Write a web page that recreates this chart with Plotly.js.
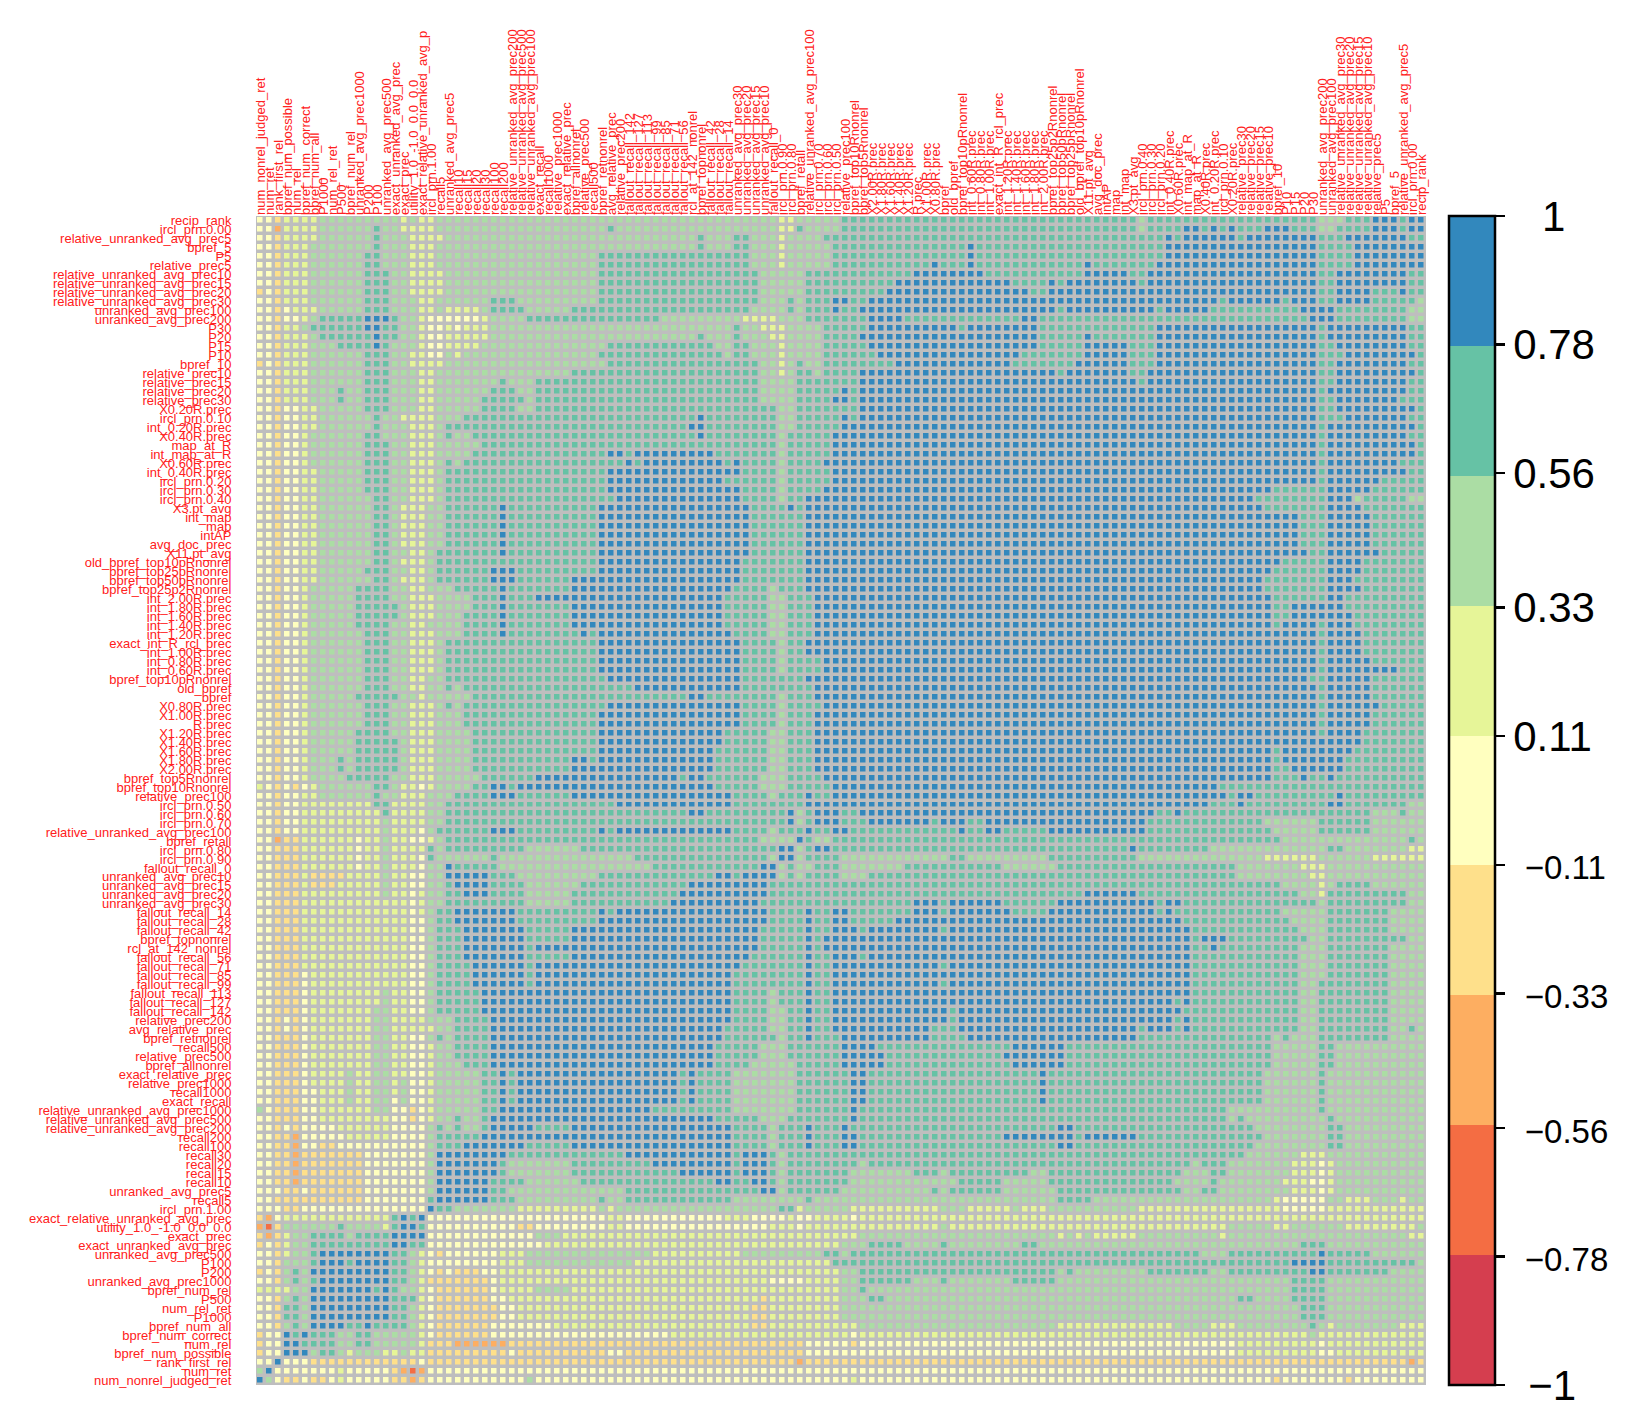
<!DOCTYPE html>
<html>
<head>
<meta charset="utf-8">
<script src="https://cdn.plot.ly/plotly-3.0.1.min.js"></script>
<style>html,body{margin:0;padding:0;background:#fff}</style>
</head>
<body>
<div id="chart" style="width:1635px;height:1421px"></div>
<script>
const rowLabels = ["recip_rank","ircl_prn.0.00","relative_unranked_avg_prec5","bpref_5","P5","relative_prec5","relative_unranked_avg_prec10","relative_unranked_avg_prec15","relative_unranked_avg_prec20","relative_unranked_avg_prec30","unranked_avg_prec100","unranked_avg_prec200","P30","P20","P15","P10","bpref_10","relative_prec10","relative_prec15","relative_prec20","relative_prec30","X0.20R.prec","ircl_prn.0.10","int_0.20R.prec","X0.40R.prec","map_at_R","int_map_at_R","X0.60R.prec","int_0.40R.prec","ircl_prn.0.20","ircl_prn.0.30","ircl_prn.0.40","X3.pt_avg","int_map","map","intAP","avg_doc_prec","X11.pt_avg","old_bpref_top10pRnonrel","bpref_top25pRnonrel","bpref_top50pRnonrel","bpref_top25p2Rnonrel","int_2.00R.prec","int_1.80R.prec","int_1.60R.prec","int_1.40R.prec","int_1.20R.prec","exact_int_R_rcl_prec","int_1.00R.prec","int_0.80R.prec","int_0.60R.prec","bpref_top10pRnonrel","old_bpref","bpref","X0.80R.prec","X1.00R.prec","R.prec","X1.20R.prec","X1.40R.prec","X1.60R.prec","X1.80R.prec","X2.00R.prec","bpref_top5Rnonrel","bpref_top10Rnonrel","relative_prec100","ircl_prn.0.50","ircl_prn.0.60","ircl_prn.0.70","relative_unranked_avg_prec100","bpref_retall","ircl_prn.0.80","ircl_prn.0.90","fallout_recall_0","unranked_avg_prec10","unranked_avg_prec15","unranked_avg_prec20","unranked_avg_prec30","fallout_recall_14","fallout_recall_28","fallout_recall_42","bpref_topnonrel","rcl_at_142_nonrel","fallout_recall_56","fallout_recall_71","fallout_recall_85","fallout_recall_99","fallout_recall_113","fallout_recall_127","fallout_recall_142","relative_prec200","avg_relative_prec","bpref_retnonrel","recall500","relative_prec500","bpref_allnonrel","exact_relative_prec","relative_prec1000","recall1000","exact_recall","relative_unranked_avg_prec1000","relative_unranked_avg_prec500","relative_unranked_avg_prec200","recall200","recall100","recall30","recall20","recall15","recall10","unranked_avg_prec5","recall5","ircl_prn.1.00","exact_relative_unranked_avg_prec","utility_1.0_-1.0_0.0_0.0","exact_prec","exact_unranked_avg_prec","unranked_avg_prec500","P100","P200","unranked_avg_prec1000","bpref_num_rel","P500","num_rel_ret","P1000","bpref_num_all","bpref_num_correct","num_rel","bpref_num_possible","rank_first_rel","num_ret","num_nonrel_judged_ret"];

// Column titles that run off the top edge of the picture in the reference.
const clippedColumnTitles = {"exact_relative_unranked_avg_prec":"exact_relative_unranked_avg_p","relative_unranked_avg_prec1000":"relative_unranked_avg_prec100"};

// Value standing for each colour class 1..9 of the reference legend.
const classValues = [null,-0.89,-0.67,-0.44,-0.22,0,0.22,0.44,0.67,0.89];
const binColors = ["#D53E4F","#F46D43","#FDAE61","#FEE08B","#FFFFBF","#E6F598","#ABDDA4","#66C2A5","#3288BD"];
const legendTicks = [-1,-0.78,-0.56,-0.33,-0.11,0.11,0.33,0.56,0.78,1];
const narrow = s => '\u00A0<span style="font-size:33px">\u2212' + s + '</span>';
const legendLabels = ['\u00A0<span style="font-size:12px">\u00A0</span>\u22121',narrow("0.78"),narrow("0.56"),narrow("0.33"),narrow("0.11"),"0.11","0.33","0.56","0.78",'\u00A0\u00A0<span style="font-size:20px">\u00A0</span>1'];

// Class readings, run-length coded as class x count.
// Rows 1-52, columns 79-130
const rows1to52 = [
"8x20 7 8x19 7x3 8x3 9x3 8 9x2",
"8x20 7 8x4 9x2 8 9 8 9 8x3 9x3 8x3 7x2 8x4 9x3 8 9x2",
"8x23 9 8 9x6 8 9x8 8x3 9x7 8x2",
"8 9 8x21 9x17 8x4 9x8",
"8 9 8x21 9x17 8x4 9x8",
"8 9 8x12 9 8x7 9x18 8x4 9x8",
"9x3 8x11 9x5 8x2 9x19 8x2 9x8 8x2",
"9x6 8x4 9 8 9x8 8 9x19 8x2 9x8 8x2",
"9x8 8x2 9x30 8x2 9x4 8x3 9 8x2",
"9x29 8 9x6 8 9x3 8x2 9x4 8x5 7",
"9x11 8 9x10 8 9x5 8x10 9x4 8x8 7x2",
"8x7 9x2 8x30 9x3 8x8 7x2",
"8 9x8 8x13 9x18 8 9x9 8x2",
"9x9 8x5 9 8x7 9x18 8 9x9 8x2",
"9x9 8x5 9x5 8x3 9x18 8x2 9x8 8x2",
"9x7 8x7 9x5 8x3 9x18 8x3 9x8 8",
"9x6 8x7 9x6 8x3 9x18 8x2 9x8 8x2",
"9x11 8 9x7 8x2 9x19 8x2 9x9 8",
"9x20 8 9x19 8x2 9x8 8x2",
"9x40 8 9x9 8x2",
"9x40 8x2 9x7 8x3",
"9x40 8x2 9x9 8",
"9x40 8x3 9x7 8x2",
"9x40 8 9x10 8",
"9x40 8 9x9 8x2",
"9x40 8 9x10 8",
"9x40 8 9x10 8",
"9x40 8 9x8 8x3",
"9x40 8 9x9 8x2",
"9x40 8 9x6 8x5",
"9x35 8x6 9x5 8x6",
"9x33 8x8 9x3 7 8x5 7x2",
"9x34 8x7 9x4 8x7",
"9x38 8x3 9x5 8x6",
"9x38 8x3 9x5 8x6",
"9x38 8x3 9x5 8x6",
"9x38 8x3 9x5 8x6",
"9x39 8x2 9x6 8x5",
"9x36 8x5 9x4 8x7",
"9x35 8x6 9x4 8x7",
"9x34 8x7 9x3 8x8",
"9x34 8x7 9x4 8x7",
"9x35 8x6 9x2 8x9",
"9x35 8x2 9x6 8x9",
"9x35 8x2 9x7 8x8",
"9x35 8 9x4 8 9x3 8x8",
"9x40 8 9x4 8x7",
"9x40 8 9x4 8x7",
"9x40 8 9x4 8x7",
"9x40 8 9x5 8x6",
"9x40 8 9x8 8x3",
"9x39 8x2 9x5 8x6"
];
// Rows 53-104, columns 27-78
const rows53to104left = [
"8x16 9x12 8x8 9x16",
"8x22 9x2 8x8 7 8x3 9x16",
"8x13 9x15 8x4 7 8x4 9x15",
"8x12 9x16 8x4 7 8x3 9x16",
"8x12 9x16 8x4 7 8x3 9x16",
"8x12 9x14 8x5 7x2 8x3 9x16",
"8x12 9x14 8x5 7x2 8x3 9x16",
"8x12 9x13 8x6 7x2 8x3 9x16",
"8x9 9x2 8 9x13 8x6 7x2 8x3 9x16",
"8x9 9x16 8x6 7x2 8x3 9x16",
"8x5 9x16 8 9x2 8x6 7x3 8x4 9x15",
"9x2 8 9x22 8x5 7x3 8x5 9x14",
"9x3 8x6 9x18 8x4 7 8x3 9 8x2 9x14",
"8x14 9x13 8x8 9x17",
"8x22 9x2 8x9 9 7 8 9x3 8x2 9x11",
"8x33 9 7 8 9x3 8x3 9x7 8 9x2",
"9x3 8x9 9 8 9x13 8x4 7 8x3 9 8x2 9x2 8x12",
"8x30 7x4 9 8 7x2 8x14",
"8x4 7x6 8x22 9x2 7 8 9x2 8x14",
"8 7x15 8x15 7 9x2 7 8x4 7x12 8",
"8 7x17 8x12 9x2 7 8 7x2 8x3 7x7 8x6",
"8x3 7x9 8x13 9x2 8 9x4 7 8 7 8x4 7x3 8x10",
"8x4 7x6 8x12 9x9 8x21",
"8x4 7x5 8x12 9x10 8x21",
"8x4 7x5 8x11 9x10 8x17 9x3 8 9",
"9x3 8x9 9 8 9x17 8x4 9 8x2 9x2 8x7 9x3 8 9",
"9x3 8x9 9x19 8x4 9 8x2 9x2 8x5 9x7",
"9x4 8x5 9x21 8x5 9 8x2 9x3 8 9x8 8 9",
"9x4 8x5 9x21 8x5 9 8 9x15",
"9x4 8 9x25 8x5 9 8 9x15",
"9x4 8x5 9x20 8x6 9 8x2 9x3 8 9x10",
"9x4 8 9x23 8x7 9 8x2 9x12 8 9",
"9x4 8 9x22 8x8 9 8x2 9x14",
"9x4 8 9x22 8x8 9 8x2 9x12 8 9",
"9x27 8x4 7 8x3 9 8x2 9x14",
"9x27 8x4 7 8x3 9 8x2 9x14",
"9x27 8x4 7x2 8x2 9 8x2 9x13 8",
"9x27 8x4 7x2 8x2 9 8x2 9x13 8",
"9x26 8x5 7x2 8x2 9 8x2 9x11 8x3",
"9x26 8x6 7 8x2 9 8x3 9x10 8x3",
"9x25 8x5 7x3 8x6 9x4 8x9",
"9x25 8x5 7x3 8x6 9x5 8x8",
"9x25 8x4 7x5 8x5 9x5 8x8",
"8 9 8 9x18 8 9 8x4 7x7 8x6 9x2 8x10",
"8 9 8 9x18 8 9 8x4 7x7 8x6 9x2 8x10",
"8 9 8 9x18 8 9 8x4 7x7 8x6 9x2 8x10",
"8 9 8 9x18 8 9 8x4 7x7 8x6 9x2 8x10",
"8 9x17 8x9 7x7 8x6 9 8x11",
"9x25 8x5 7x3 8x7 9 8x11",
"9x5 8x4 9x18 8x4 7 8x3 9 8x3 9 8x12",
"9x27 8x4 7 8x3 9 8x3 9x2 8x11",
"9x4 8x5 9x18 8x4 7 8x3 9 8x3 9x2 8x11"
];
// Rows 53-104, columns 79-130
const rows53to104right = [
"9x40 8 9x5 8x6",
"9x40 8 9x5 8x6",
"9x40 8 9x6 8x5",
"9x40 8 9x5 8x6",
"9x40 8 9x5 8x6",
"9x40 8 9x4 8x7",
"9x45 8x7",
"9x35 8 9x8 8x8",
"9x35 8 9x7 8x9",
"9x35 8x2 9x6 8x9",
"9x35 8x3 9 8x2 9 8x10",
"9x29 8x23",
"9x30 8 9x2 8x9 9 8x9",
"9x28 8x3 9 8x9 9x2 8x7 7x2",
"9x22 8x2 9 8x21 7x3 8 7x2",
"9 8x2 9x18 8x13 7x6 8x6 7x6",
"9 8x2 9x2 8x5 9x11 8x14 7x5 8x6 7x6",
"8x36 7x14 8 7",
"8x19 9 8x8 7x13 8x2 7x7 6x2",
"8 7x9 8x10 7x14 6x6 7x6 6x6",
"8x5 7x6 8x20 7x7 6x3 7x11",
"8x31 7x8 6x2 7x11",
"8x36 7x4 6 7 8x4 7x6",
"8x14 9x6 8x18 7x2 6 8x9 7x2",
"9x5 8x6 9x11 8 9x2 8x15 7 8x9 7x2",
"9x6 8x4 9x12 8 9 8x12 7x5 8x7 7x4",
"9x25 8x12 7x4 8x7 7x4",
"9x26 8x12 7x3 8x7 7x4",
"9x26 8 9x3 8x9 7x2 8x9 7x2",
"9x26 8x2 9 8x9 7x3 8x7 7x4",
"9x26 8x12 7x3 8x7 7x4",
"9x26 8x12 7x3 8x7 7x4",
"9x26 8x12 7x3 8x7 7x4",
"9x26 8x12 7x2 8x8 7x4",
"9x26 8x12 7x2 8x8 7x4",
"9x24 8 9 8x12 7x2 8x8 7x4",
"9x25 8x13 7x2 8x8 7x4",
"9x24 8 9 8x12 7x2 8x8 7x4",
"9x20 8 9x3 8 9 8x12 7x2 8x8 7x2 8 7",
"8 9x19 8x15 7 8 7x3 8x8 7x4",
"8x6 9x6 8x23 7x5 8x2 7x10",
"8x5 9x7 8x23 7x5 8x2 7x10",
"8x6 9x6 8x23 7x5 8x2 7x10",
"8x9 9 8x24 7x6 8 7x11",
"8x9 9 8x24 7x6 8 7x11",
"8x9 9 8x24 7x6 8 7x11",
"8x9 9 8x24 7x6 8 7x11",
"8x30 7x10 8 7x11",
"8x30 7 8 7x9 8 7x10",
"8x11 9x2 8x20 7x8 8x2 7x9",
"8x5 9x8 8 9x6 8x14 7x7 8x2 7x9",
"8x11 9x2 8x20 7x8 8x2 7x9"
];
// Rows 105-130, columns 1-65
const rows105to130left = [
"5x2 4x2 3 4x7 5x7 7 9x8 8x13 9x12 8 9x3 8 7 8x6",
"5x2 4x2 3 4x7 5x7 7 9x7 8 7x7 8x9 9x9 8 9x3 8 7 8x6",
"5x2 4x2 3 4x7 5x7 7 9x7 8 7x7 8x12 9x6 8 9x3 8 7 8x6",
"5x2 4x2 3 4x7 5x7 7 9x6 8x4 7x6 8x15 9x2 8x2 9x2 8 7 8x6",
"5x3 4x2 5 4x6 5x7 7 9x6 8x2 7x13 8x15 9x2 7 8x6",
"5x2 4x10 5x7 8 9x6 8x3 7x9 8 7x2 8x12 7x8 8 7x3",
"5x3 4x2 5x14 9 8x2 7x7 6x9 7 6 7x18 8x2 6 7x4",
"4 3 5 6x12 8 9 8 9 5x20 6x2 5x11 6x3 5x4 6 5x2 6x3",
"3 2 4 7x6 8 7x4 6 8 9x2 8 5x10 4x2 5x8 6x2 5x16 6x3 5 6x4",
"4 3 4 6 7x2 8x4 7 8x4 9x4 5x12 7x3 6x31",
"4 5 4 6 7x2 8x9 9x2 8x2 5x13 6x33",
"5x2 4 6 7x2 8 9x8 8x2 7 6 5 4 5x6 6x3 7x14 6x10 7x9 8x2",
"5x2 4 7x3 8 9x3 8 9x4 8x2 7 6 5x8 6x3 7x12 6x22 8",
"4 5 4 7 8 7 9x9 8x2 7 6 5 4 5 4x3 5x2 6x4 6x34",
"5x2 4 7 8 7 8 9x8 8x2 7 6 4x7 5 6x30 5x4 6x4",
"6x4 7x2 9x7 8 9 8 7x2 6 5 4x6 5 6x4 7x4 6x30",
"5x2 4 7 8 7 9x9 8x3 6 5 4x6 5x2 6x28 4 6x8",
"5x2 4 8x2 7 9x9 8x2 7 6 5 4x7 5x2 6x26 4x2 6x8",
"5x2 4 8x2 7 9x9 8x2 7 6 5 4x7 5x2 6x26 4x2 6x8",
"5x2 4 7 8 7 9x4 8x2 9 8x4 7 6 5 4x6 5x7 6x22 4x2 6x8",
"4 5x2 9 8 9 8x3 7x2 8x2 7x5 6 5 4x6 5x20 6x19",
"4 5x2 9x2 8x4 7x2 8x2 7x5 6 4x3 3x6 4x33 5x4",
"4 5x2 9x3 7 8x2 7 6 7x3 6x2 7 6x2 4x9 5 4x10 5x2 4x20 5x4",
"5x2 9 5x3 4x12 5 4x41 3 4x4",
"7 9 5x7 6 5x5 4 3 2 3 5x46",
"9 7 5 4x2 5 4x2 5 6 5x5 4x2 3 4 5x11 7 5x34"
];
// Rows 105-130, columns 66-130
const rows105to130right = [
"8x45 7x6 6x3 7x11",
"8x2 7 8x36 7 8x3 7x7 6x3 5 6 7x10",
"8 7x7 8x3 7 8x9 7x2 8x15 7x3 8x2 7x7 6x3 5 6 7x10",
"8 7x12 8x5 7x5 8x14 7x4 8 7x7 6x3 5x2 6 7x10",
"7x10 8 7 8x6 7x6 8x14 7x2 8x2 7x8 6x3 5 6 7x10",
"7x24 8x4 7x20 6 5x5 7x2 6x3 7x3 6 7x2",
"7 6x10 7x3 6x5 7 6x3 7x10 6x16 5x5 6x11",
"6 5 6x63",
"6x11 7 6x31 7x5 6x2 7x6 6x8 7",
"6x2 7x22 6 7 6 7 6x5 7x9 6 7x20 6x2",
"7x3 8x4 7x4 8 7x8 8x2 7x29 8x3 7x11",
"7 8x39 7x3 8x10 9 8x5 7x6",
"8x50 9x4 8x10 7",
"7x2 8x22 7 8 7x8 8x7 7x2 8x9 9x2 8x7 7x4",
"7x2 8x6 7x3 8 7x7 8x5 7x26 8x4 7x11",
"7x2 8 7x47 8x4 7x11",
"7x3 8x2 7x39 8x2 7x4 8x4 7x11",
"7x51 8x3 7x11",
"7x51 8x3 7x11",
"6x2 7x22 6x13 7x4 6x3 7x8 8 7 6 7x7 6x3",
"6 5 6x50 7 6x12",
"5 4 5x42 6x9 5 6x11",
"5x44 6x9 5x2 6x10",
"4x63 3 4",
"5x65",
"5 6 5x46 4 5x7 4 5x8"
];

function expandRuns(text) {
  const out = [];
  text.split(" ").forEach(tok => {
    const [cls, count] = tok.split("x");
    for (let n = 0; n < (count ? +count : 1); n++) out.push(classValues[+cls]);
  });
  return out;
}

const size = rowLabels.length;
const z = [];
for (let i = 0; i < size; i++) z.push(new Array(size).fill(null));
function place(list, firstRow, firstCol) {
  list.forEach((text, r) => expandRuns(text).forEach((v, c) => {
    if (firstCol + c < size) z[firstRow + r][firstCol + c] = v;
  }));
}
place(rows1to52, 0, 78);
place(rows53to104left, 52, 26);
place(rows53to104right, 52, 78);
place(rows105to130left, 104, 0);
place(rows105to130right, 104, 65);
// The matrix is symmetric about its anti-diagonal: the unread half is the mirror of the read half.
for (let i = 0; i < size; i++) for (let j = 0; j < size; j++) {
  if (z[i][j] === null) z[i][j] = z[size - 1 - j][size - 1 - i];
}

const positions = rowLabels.map((_, i) => i);
const columnLabels = rowLabels.slice().reverse().map(s => clippedColumnTitles[s] || s);

const stepped = [];
binColors.forEach((c, k) => { stepped.push([k / 9, c]); stepped.push([(k + 1) / 9, c]); });

const W = 1635, H = 1421, L = 255.5, R = 1426.5, T = 216, B = 1385;
const labelFont = {family: "Liberation Sans, Arial, sans-serif", size: 13, color: "#FF2020"};

Plotly.newPlot("chart", [{
  type: "heatmap",
  z: z, x: positions, y: positions,
  zmin: -1, zmax: 1,
  colorscale: stepped,
  xgap: 3.5, ygap: 3.5,
  hoverongaps: false,
  colorbar: {
    x: (1450 - L) / (R - L), xanchor: "left", xref: "paper",
    y: 0, yanchor: "bottom", yref: "paper",
    len: 1, lenmode: "fraction",
    thickness: 46, thicknessmode: "pixels",
    xpad: 0, ypad: 0,
    outlinewidth: 2.5, outlinecolor: "#000", borderwidth: 0,
    tickmode: "array", tickvals: legendTicks, ticktext: legendLabels,
    ticks: "outside", ticklen: 9, tickwidth: 2.5, tickcolor: "#000",
    tickfont: {family: "Liberation Sans, Arial, sans-serif", size: 42, color: "#000"}
  }
}], {
  width: W, height: H,
  margin: {l: L, r: W - R, t: T, b: H - B, pad: 0, autoexpand: false},
  paper_bgcolor: "#fff",
  plot_bgcolor: "#BEBEBE",
  xaxis: {
    side: "top", range: [-0.5, size - 0.5], showgrid: false, zeroline: false, showline: false,
    tickmode: "array", tickvals: positions, ticktext: columnLabels, tickangle: -90,
    ticks: "", tickfont: labelFont
  },
  yaxis: {
    range: [size - 0.5, -0.5], showgrid: false, zeroline: false, showline: false,
    tickmode: "array", tickvals: positions, ticktext: rowLabels,
    ticks: "outside", ticklen: 21, tickcolor: "rgba(0,0,0,0)", tickfont: labelFont
  },
  showlegend: false
}, {displayModeBar: false, staticPlot: true});
</script>
</body>
</html>
